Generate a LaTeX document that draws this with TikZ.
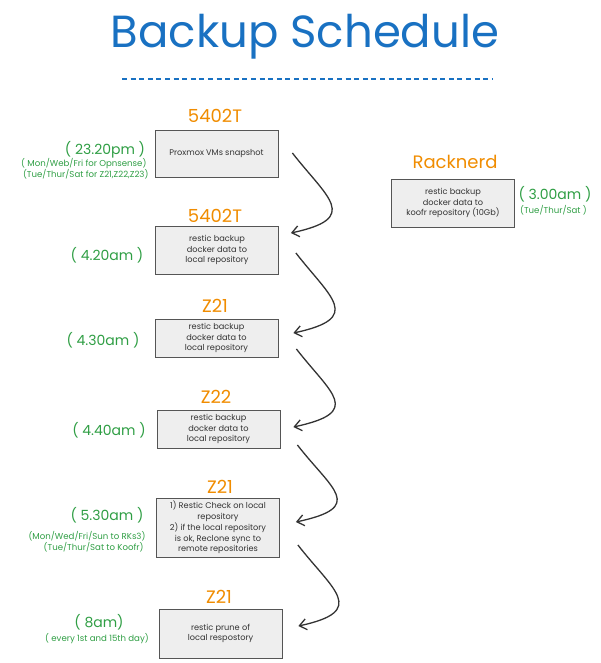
\documentclass[tikz,border=0pt]{standalone}
\usepackage{fontspec}
\setmainfont{Poppins}
\usetikzlibrary{arrows.meta,calc}
\definecolor{ttl}{HTML}{1971C2}
\definecolor{org}{HTML}{F08C00}
\definecolor{grn}{HTML}{2F9E44}
\definecolor{boxfill}{HTML}{EEEEEE}
\definecolor{boxline}{HTML}{555555}
\definecolor{ink}{HTML}{333333}
\begin{document}
\begin{tikzpicture}[x=1pt,y=-1pt,
  box/.style={draw=boxline, fill=boxfill, line width=0.8pt, minimum width=123pt,
    inner sep=0pt, align=center, font=\fontsize{8.2}{10.8}\selectfont, text=ink},
  host/.style={anchor=base, text=org, font=\fontsize{18}{20}\selectfont},
  tm/.style={anchor=base, text=grn, font=\fontsize{14}{16}\selectfont},
  sub/.style={text=grn, font=\fontsize{8.6}{10}\selectfont},
  flow/.style={draw=ink, line width=1.3pt, -{Straight Barb[length=7pt,width=11pt]}},
  dashline/.style={draw=ttl, line width=1.8pt, dash pattern=on 5pt off 3.6pt}]
\useasboundingbox (0,0) rectangle (600,663);

% title
\node[anchor=base, text=ttl, font=\fontsize{45}{50}\selectfont] (title) at (305,48) {Backup Schedule};
\coordinate (dl) at (122,79);
\coordinate (dr) at (492,79);
\draw[dashline] (dl) -- (dr);

% boxes
\node[box, minimum height=47pt] (b1) at (216.5,153.5) {Proxmox VMs snapshot};
\node[box, minimum height=48pt] (b2) at (217,250) {restic backup\\docker data to\\local repository};
\node[box, minimum height=38pt] (b3) at (216.5,338) {restic backup\\docker data to\\local repository};
\node[box, minimum height=38pt] (b4) at (218.5,429) {restic backup\\docker data to\\local repository};
\node[box, minimum height=59pt] (b5) at (218,527.5) {1) Restic Check on local\\repository\\2) if the local repository\\is ok, Reclone sync to\\remote repositories};
\node[box, minimum height=49pt] (b6) at (220.5,633.5) {restic prune of\\local respostory};
\node[box, minimum height=48pt] (rk) at (453,203) {restic backup\\docker data to\\koofr repository (10Gb)};

% host labels
\node[host] (h1) at (215,123) {5402T};
\node[host] (h2) at (215,222) {5402T};
\node[host] (h3) at (215,312) {Z21};
\node[host] (h4) at (216,403) {Z22};
\node[host] (h5) at (220,493) {Z21};
\node[host] (h6) at (219,603) {Z21};
\node[host] (h7) at (455,168) {Racknerd};

% times
\node[tm] (t1) at (105,155) {( 23.20pm )};
\node[sub, anchor=base east] (s1a) at (150,167) {( Mon/Web/Fri for Opnsense)};
\node[sub, anchor=base east] (s1b) at (152,177.5) {(Tue/Thur/Sat for Z21,Z22,Z23)};
\node[tm] (t2) at (107,260) {( 4.20am )};
\node[tm] (t3) at (103,345) {( 4.30am )};
\node[tm] (t4) at (109,435) {( 4.40am )};
\node[tm] (t5) at (107,520) {( 5.30am )};
\node[sub, anchor=base east] (s5a) at (149,539) {(Mon/Wed/Fri/Sun to RKs3)};
\node[sub, anchor=base east] (s5b) at (147,550) {(Tue/Thur/Sat to Koofr)};
\node[tm] (t6) at (99,627) {( 8am)};
\node[sub, anchor=base] (s6) at (97,641) {( every 1st and 15th day)};
\node[tm] (t7) at (555,199) {( 3.00am )};
\node[sub, anchor=base] (s7) at (553.5,213) {(Tue/Thur/Sat )};

% arrows
\draw[flow] ($(b1.east)+(14,-0.5)$) .. controls +(35,45) and +(70,-15) .. ($(b2.east)+(12,-17)$);
\draw[flow] ($(b2.east)+(17,3)$) .. controls +(35,45) and +(70,-15) .. ($(b3.east)+(15,-5)$);
\draw[flow] ($(b3.east)+(18,11)$) .. controls +(35,45) and +(70,-15) .. ($(b4.east)+(13,-2)$);
\draw[flow] ($(b4.east)+(17,16)$) .. controls +(35,45) and +(70,-15) .. ($(b5.east)+(16,-5.5)$);
\draw[flow] ($(b5.east)+(18,17.5)$) .. controls +(35,45) and +(70,-15) .. ($(b6.east)+(16,-7.5)$);
\end{tikzpicture}
\end{document}
